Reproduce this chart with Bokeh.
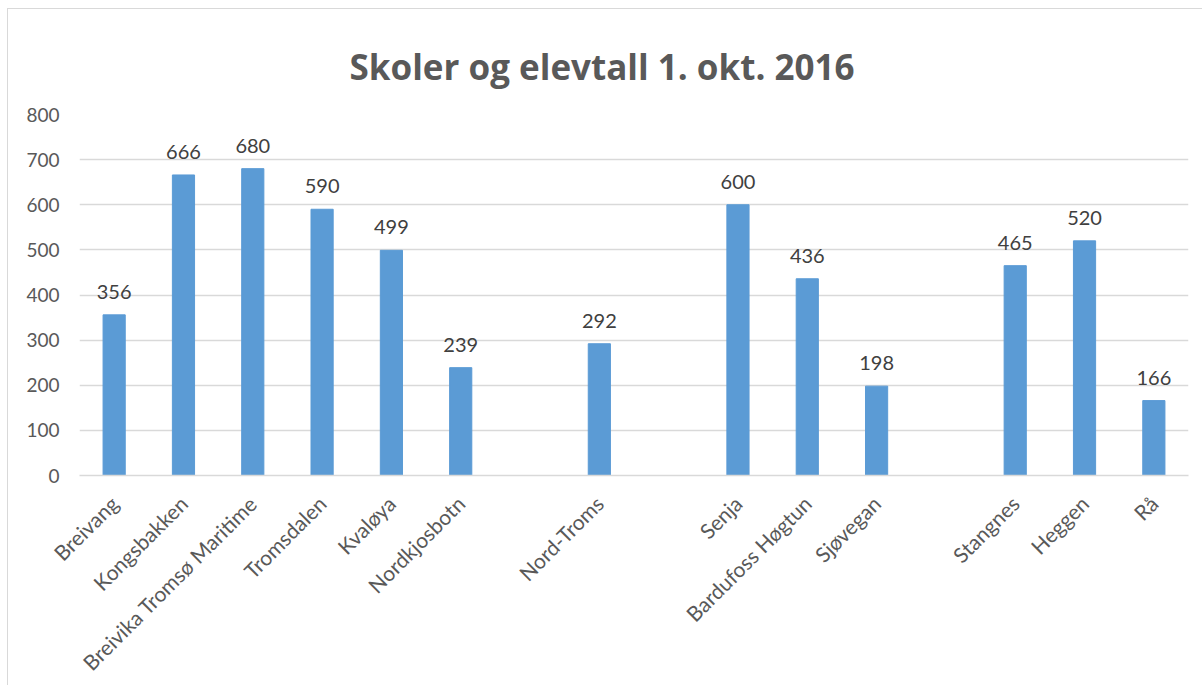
from bokeh.plotting import figure
from bokeh.models import Range1d, FactorRange, FixedTicker, ColumnDataSource, LabelSet
from bokeh.core.properties import value
from bokeh.embed import file_html
from bokeh.resources import INLINE
from math import pi

# Data
slots = ["Breivang", "Kongsbakken", "Breivika Tromsø Maritime", "Tromsdalen", "Kvaløya",
         "Nordkjosbotn", " ", "Nord-Troms", "  ", "Senja", "Bardufoss Høgtun", "Sjøvegan",
         "   ", "Stangnes", "Heggen", "Rå"]
schools = ["Breivang", "Kongsbakken", "Breivika Tromsø Maritime", "Tromsdalen", "Kvaløya",
           "Nordkjosbotn", "Nord-Troms", "Senja", "Bardufoss Høgtun", "Sjøvegan",
           "Stangnes", "Heggen", "Rå"]
students = [356, 666, 680, 590, 499, 239, 292, 600, 436, 198, 465, 520, 166]
y_ticks = [0, 100, 200, 300, 400, 500, 600, 700, 800]

FONT = "Lato"
GRID = "#d9d9d9"

p = figure(width=1195, height=677, x_range=FactorRange(*slots, range_padding=0),
           y_range=Range1d(0, 800), output_backend="svg", toolbar_location=None,
           min_border_left=71, min_border_right=15, min_border_top=105, min_border_bottom=202)
p.styles = {"margin-left": "7px", "margin-top": "8px",
            "border-left": "1px solid #d9d9d9", "border-top": "1px solid #d9d9d9"}

p.title.text = "Skoler og elevtall 1. okt. 2016"
p.title.align = "left"
p.title.vertical_align = "top"
p.title.text_font = "Open Sans"
p.title.text_font_style = "bold"
p.title.text_font_size = "35px"
p.title.text_color = "#595959"
p.title.offset = 270
p.title.standoff = 45

src = ColumnDataSource(dict(x=schools, y=students, lbl=[str(v) for v in students]))
p.vbar(x="x", top="y", width=0.32, source=src, color="#5B9BD5")

labels = LabelSet(x="x", y="y", text="lbl", source=src, text_align="center",
                  text_baseline="alphabetic", y_offset=16, text_font=value(FONT),
                  text_font_size="20px", text_color="#404040")
p.add_layout(labels)

p.outline_line_color = None
p.xgrid.grid_line_color = None
p.ygrid.grid_line_color = GRID
p.ygrid.grid_line_width = 1.5
p.yaxis.ticker = FixedTicker(ticks=y_ticks)
p.yaxis.axis_line_color = None
p.yaxis.major_tick_line_color = None
p.yaxis.minor_tick_line_color = None
p.yaxis.major_label_text_font = FONT
p.yaxis.major_label_text_font_size = "19px"
p.yaxis.major_label_text_color = "#595959"
p.yaxis.major_label_standoff = 14

p.xaxis.axis_line_color = GRID
p.xaxis.axis_line_width = 1.5
p.xaxis.major_tick_line_color = None
p.xaxis.minor_tick_line_color = None
p.xaxis.major_label_orientation = pi / 4
p.xaxis.major_label_text_font = FONT
p.xaxis.major_label_text_font_size = "21px"
p.xaxis.major_label_text_color = "#595959"
p.xaxis.major_label_standoff = 18

open("out.html", "w").write(file_html(p, INLINE))
